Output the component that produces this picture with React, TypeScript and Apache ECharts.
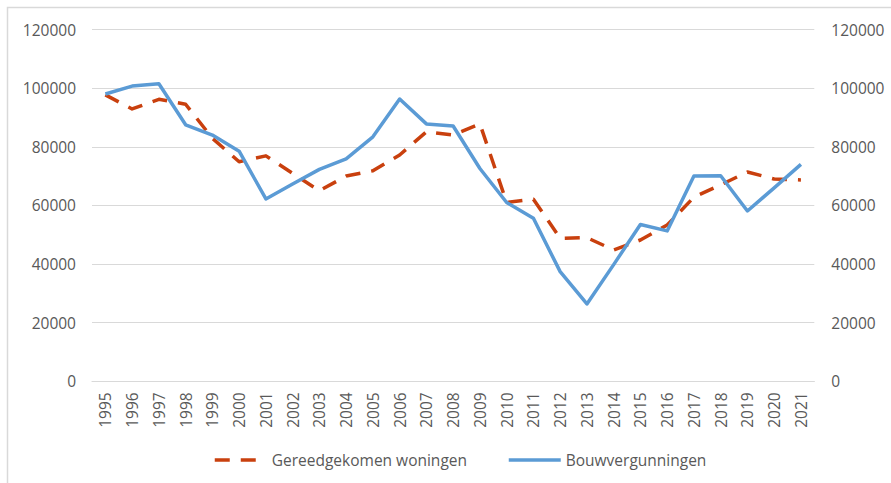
import React, { useEffect, useRef } from "react";
import * as echarts from "echarts";

const years = [
  "1995", "1996", "1997", "1998", "1999", "2000", "2001", "2002", "2003",
  "2004", "2005", "2006", "2007", "2008", "2009", "2010", "2011", "2012",
  "2013", "2014", "2015", "2016", "2017", "2018", "2019", "2020", "2021",
];

const gereedgekomen = [
  97700, 92900, 96200, 94500, 82900, 74900, 76900, 70900, 65000, 70000,
  71800, 77200, 85100, 84000, 87800, 61000, 62100, 48800, 49000, 44800,
  48200, 53300, 62800, 67000, 71400, 69000, 68700,
];

const bouwvergunningen = [
  98000, 100700, 101500, 87500, 84000, 78500, 62200, 67300, 72300, 75900,
  83400, 96300, 87800, 87100, 72600, 61000, 55600, 37400, 26400, 39800,
  53500, 51300, 70000, 70100, 58100, 66000, 74000,
];

const seriesNames = ["Gereedgekomen woningen", "Bouwvergunningen"];

const FONT = "Open Sans";
const TEXT = "#595959";
const GRID = "#D9D9D9";
const RED = "#C9400E";
const BLUE = "#5B9BD5";

export default function App() {
  const ref = useRef<HTMLDivElement>(null);

  useEffect(() => {
    if (!ref.current) return;
    const chart = echarts.init(ref.current, null, { renderer: "svg" });
    const valueAxisBase = {
      type: "value" as const,
      min: 0,
      max: 120000,
      interval: 20000,
      axisLine: { show: false },
      axisTick: { show: false },
    };
    const plain = (v: number) => String(v);
    const legendBase = {
      top: 447,
      itemWidth: 52,
      itemHeight: 16,
      itemGap: 0,
      itemStyle: { opacity: 0 },
      textStyle: { color: TEXT, fontFamily: FONT, fontSize: 15.5 },
    };
    chart.setOption({
      animation: false,
      backgroundColor: "#ffffff",
      textStyle: { fontFamily: FONT },
      graphic: [
        {
          type: "rect",
          shape: { x: 7.5, y: 7.5, width: 900, height: 500 },
          style: { fill: "none", stroke: GRID, lineWidth: 1.5 },
          silent: true,
        },
      ],
      grid: { left: 92, right: 76.7, top: 29.5, bottom: 101.7, containLabel: false },
      xAxis: {
        type: "category",
        data: years,
        boundaryGap: true,
        axisLine: { show: true, lineStyle: { color: GRID, width: 1.2 } },
        axisTick: { show: false },
        axisLabel: {
          rotate: 90,
          margin: 11,
          color: TEXT,
          fontFamily: FONT,
          fontSize: 15.5,
          interval: 0,
        },
        splitLine: { show: false },
      },
      yAxis: [
        {
          ...valueAxisBase,
          position: "left",
          axisLabel: { color: TEXT, fontFamily: FONT, fontSize: 15.5, margin: 16, formatter: plain },
          splitLine: { show: true, lineStyle: { color: GRID, width: 1.2 } },
        },
        {
          ...valueAxisBase,
          position: "right",
          axisLabel: { color: TEXT, fontFamily: FONT, fontSize: 15.5, margin: 17, formatter: plain },
          splitLine: { show: false },
        },
      ],
      legend: [
        {
          ...legendBase,
          data: [seriesNames[0]],
          left: 208,
          lineStyle: { width: 3.5, color: RED, type: [15, 11], cap: "butt" },
        },
        {
          ...legendBase,
          data: [seriesNames[1]],
          left: 502,
          lineStyle: { width: 3.5, color: BLUE, type: "solid" },
        },
      ],
      series: [
        {
          name: seriesNames[0],
          type: "line",
          yAxisIndex: 0,
          data: gereedgekomen,
          symbol: "none",
          showSymbol: false,
          color: RED,
          lineStyle: { color: RED, width: 3.5, type: [15, 11], cap: "butt", join: "round" },
          z: 2,
        },
        {
          name: seriesNames[1],
          type: "line",
          yAxisIndex: 1,
          data: bouwvergunningen,
          symbol: "none",
          showSymbol: false,
          color: BLUE,
          lineStyle: { color: BLUE, width: 3.5, join: "round" },
          z: 3,
        },
      ],
    });
    return () => chart.dispose();
  }, []);

  return (
    <div
      ref={ref}
      style={{ position: "absolute", left: 0, top: 0, width: 891, height: 483 }}
    />
  );
}
